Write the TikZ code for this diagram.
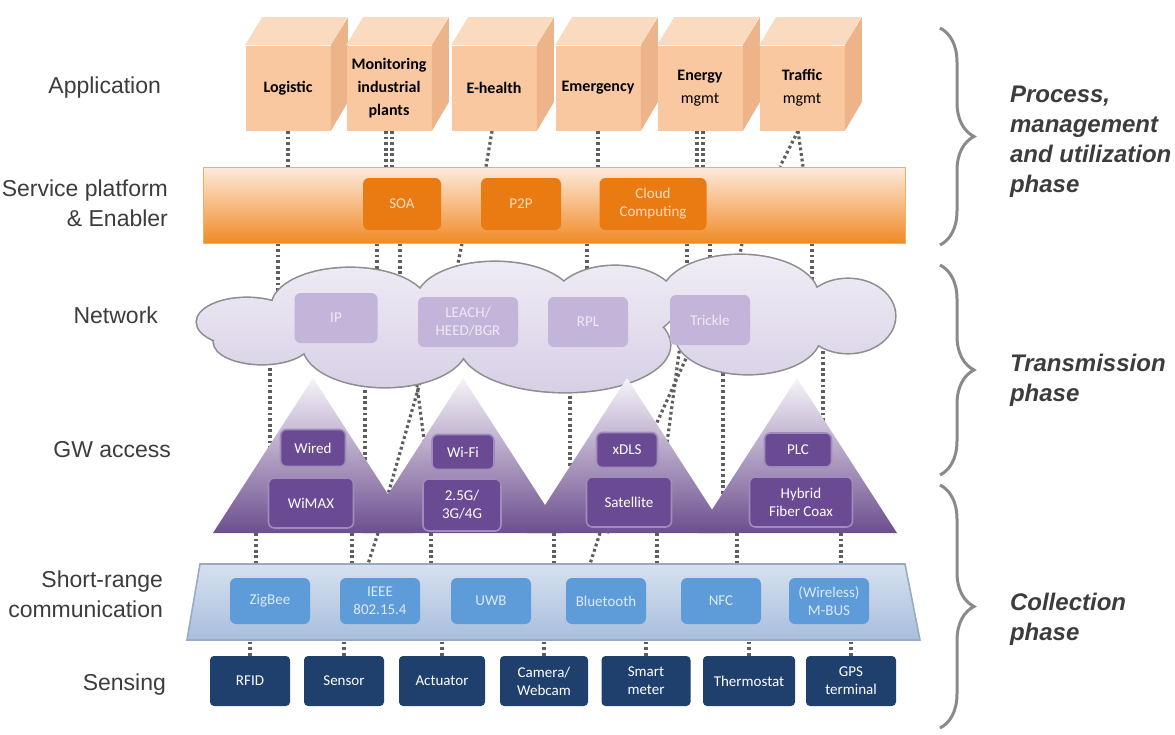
\documentclass[tikz,border=0pt]{standalone}
\usepackage{xcolor}
\usepackage{fontspec}
\setmainfont{Liberation Sans}
\newfontfamily\boxfont{Carlito}
\usepackage{tikz}
\usetikzlibrary{decorations.pathreplacing,backgrounds}

\definecolor{cubefront}{HTML}{F9C8A0}
\definecolor{cubetop}{HTML}{FBDBC0}
\definecolor{cubeside}{HTML}{ECB488}
\definecolor{svctop}{HTML}{FDEBDB}
\definecolor{svcmid}{HTML}{F9CFA8}
\definecolor{svcbot}{HTML}{F08A26}
\definecolor{svcbox}{HTML}{E97B12}
\definecolor{svctext}{HTML}{FBDCC0}
\definecolor{nettop}{HTML}{F1EEF6}
\definecolor{netlow}{HTML}{D7CEE5}
\definecolor{netbox}{HTML}{C3B5D9}
\definecolor{nettext}{HTML}{EEEAF6}
\definecolor{cloudline}{HTML}{8E8E8E}
\definecolor{gwtop}{HTML}{F6F3F9}
\definecolor{gwlow}{HTML}{6C4F8E}
\definecolor{gwbox}{HTML}{6A4A92}
\definecolor{gwedge}{HTML}{A08CBC}
\definecolor{srtop}{HTML}{D6E1EF}
\definecolor{srlow}{HTML}{A8BEDD}
\definecolor{srline}{HTML}{9AAAC2}
\definecolor{srbox}{HTML}{5E9CD9}
\definecolor{srtext}{HTML}{DCEAF8}
\definecolor{sensbox}{HTML}{1F3F6C}
\definecolor{labelgray}{HTML}{3C3C3C}
\definecolor{bracegray}{HTML}{8A8A8A}
\definecolor{dotgray}{HTML}{5E5E5E}

\tikzset{
  tagbox/.style={rounded corners=3pt, inner sep=0pt, align=center,
    font=\boxfont\fontsize{7.5}{9}\selectfont},
  appcube/.style={fill=cubefront, inner sep=0pt, align=center,
    minimum width=42.5pt, minimum height=42.5pt,
    font=\boxfont\bfseries\fontsize{8}{11.5}\selectfont},
  svctag/.style={tagbox, fill=svcbox, text=svctext, minimum height=26pt},
  nettag/.style={tagbox, fill=netbox, text=nettext, minimum height=25pt},
  gwtag/.style={tagbox, fill=gwbox, draw=gwedge, line width=.8pt, text=white},
  srtag/.style={tagbox, fill=srbox, text=srtext, minimum width=40pt, minimum height=23pt},
  senstag/.style={tagbox, rounded corners=2pt, fill=sensbox, text=white, minimum height=25pt},
  lefttag/.style={anchor=east, align=right, text=labelgray,
    font=\fontsize{11.5}{15}\selectfont},
  phasetag/.style={anchor=west, align=left, text=labelgray,
    font=\bfseries\itshape\fontsize{12}{15}\selectfont},
  phasebrace/.style={draw=bracegray, line width=1.5pt, decorate,
    decoration={brace, amplitude=17pt}},
  link/.style={draw=dotgray, line width=1.6pt, dash pattern=on 1.4pt off 1.4pt},
}

\newcommand{\cloudlobes}{%
  (247,322) ellipse (50 and 24) (262,342) ellipse (48 and 22)
  (350,306) ellipse (78 and 38) (495,300) ellipse (78 and 38)
  (615,303) ellipse (62 and 37) (740,296) ellipse (78 and 41)
  (848,316) ellipse (47 and 37) (748,336) ellipse (72 and 38)
  (565,345) ellipse (105 and 47) (385,345) ellipse (82 and 42)}

\begin{document}
\begin{tikzpicture}[x=0.5pt, y=-0.5pt]
  \useasboundingbox (0,0) rectangle (1175,735);

  % layer names
  \node[lefttag] (lapp) at (168,88) {Application};
  \node[lefttag] (lsvc) at (175,203) {Service platform\\\& Enabler};
  \node[lefttag] (lnet) at (165,315) {Network};
  \node[lefttag] (lgw) at (178,450) {GW access};
  \node[lefttag] (lsr) at (170,594) {Short-range\\communication};
  \node[lefttag] (lsen) at (173,685) {Sensing};

  % application cubes
  \foreach \nm/\cx/\txt in {logi/288/{Logistic}, moni/389/{Monitoring\\industrial\\plants},
      ehea/494/{E-health}, emer/598/{Emergency}, ener/700/{Energy\\{\mdseries mgmt}},
      traf/802/{Traffic\\{\mdseries mgmt}}} {
    \node[appcube] (\nm) at (\cx,88) {\txt};
    \fill[cubetop] (\nm.north west) -- ++(17,-28) -- ++(85,0) -- (\nm.north east) -- cycle;
    \fill[cubeside] (\nm.north east) -- ++(17,-28) -- ++(0,85) -- (\nm.south east) -- cycle;
  }

  % service platform
  \node[top color=svctop, middle color=svcmid, bottom color=svcbot, draw=svcbot!70,
    minimum width=351pt, minimum height=38pt] (svc) at (554,205) {};
  \node[svctag, minimum width=39pt] (soa) at (402,204) {SOA};
  \node[svctag, minimum width=40pt] (p2p) at (521,204) {P2P};
  \node[svctag, minimum width=53.5pt] (cloudc) at (653,204) {Cloud\\Computing};

  % network cloud
  \coordinate (net) at (545,323);
  \draw[cloudline, line width=1.6pt] \cloudlobes;
  \begin{scope}
    \clip \cloudlobes;
    \shade[top color=nettop, bottom color=netlow] (190,250) rectangle (900,396);
  \end{scope}
  \node[nettag, minimum width=41.5pt] (ip) at (336,318) {IP};
  \node[nettag, minimum width=50pt] (leach) at (468,322) {LEACH/\\HEED/BGR};
  \node[nettag, minimum width=40pt] (rpl) at (588,322) {RPL};
  \node[nettag, minimum width=40pt] (trickle) at (710,320) {Trickle};

  % gateway access
  \coordinate (gwbase) at (555,533);
  \foreach \p in {313,463,627,797}
    \shade[top color=gwtop, bottom color=gwlow] (\p,378) -- ++(100,155) -- ++(-200,0) -- cycle;
  \node[gwtag, minimum width=32.5pt, minimum height=18.5pt] (wired) at (313,448) {Wired};
  \node[gwtag, minimum width=42.5pt, minimum height=25pt] (wimax) at (311,503) {WiMAX};
  \node[gwtag, minimum width=31pt, minimum height=17.5pt] (wifi) at (463,452) {Wi-Fi};
  \node[gwtag, minimum width=39pt, minimum height=26pt] (cell) at (462,505) {2.5G/\\3G/4G};
  \node[gwtag, minimum width=30.5pt, minimum height=17.5pt] (xdls) at (627,450) {xDLS};
  \node[gwtag, minimum width=42.5pt, minimum height=25pt] (sat) at (629,502) {Satellite};
  \node[gwtag, minimum width=33.5pt, minimum height=17pt] (plc) at (798,450) {PLC};
  \node[gwtag, minimum width=51.5pt, minimum height=25pt] (hfc) at (801,502) {Hybrid\\Fiber Coax};

  % short-range communication
  \coordinate (srn) at (553,564);
  \coordinate (srs) at (553,640);
  \shadedraw[top color=srtop, bottom color=srlow, draw=srline, line width=.8pt]
    (200,564) -- (905,564) -- (920,640) -- (187,640) -- cycle;
  \node[srtag] (zigbee) at (270,601) {ZigBee};
  \node[srtag] (ieee) at (380,601) {IEEE\\802.15.4};
  \node[srtag] (uwb) at (491,601) {UWB};
  \node[srtag] (bt) at (606,601) {Bluetooth};
  \node[srtag] (nfc) at (721,601) {NFC};
  \node[srtag] (mbus) at (829,601) {(Wireless)\\M-BUS};

  % sensing
  \node[senstag, minimum width=40pt] (rfid) at (250,681) {RFID};
  \node[senstag, minimum width=40pt] (sens) at (344,681) {Sensor};
  \node[senstag, minimum width=43pt] (actu) at (442,681) {Actuator};
  \node[senstag, minimum width=44pt] (came) at (544,681) {Camera/\\Webcam};
  \node[senstag, minimum width=44.5pt] (smar) at (646,681) {Smart\\meter};
  \node[senstag, minimum width=46pt] (ther) at (749,681) {Thermostat};
  \node[senstag, minimum width=45pt] (gps) at (851,681) {GPS\\terminal};

  % phases
  \draw[phasebrace] (940,28) -- (940,245);
  \draw[phasebrace] (940,265) -- (940,475);
  \draw[phasebrace] (940,485) -- (940,728);
  \node[phasetag] (pproc) at (1003,142) {Process,\\management\\and utilization\\phase};
  \node[phasetag] (ptrans) at (1003,380) {Transmission\\phase};
  \node[phasetag] (pcoll) at (1003,619) {Collection\\phase};

  \begin{pgfonlayer}{background}
    \draw[link] (logi.south) -- (logi.south |- svc.north);
    \draw[link] ([xshift=-1.5pt]moni.south) -- ([xshift=-1.5pt]moni.south |- svc.north);
    \draw[link] ([xshift=1.5pt]moni.south) -- ([xshift=1.5pt]moni.south |- svc.north);
    \draw[link] ([xshift=-1pt]ehea.south) -- ([xshift=-4pt]ehea.south |- svc.north);
    \draw[link] (emer.south) -- (emer.south |- svc.north);
    \draw[link] ([xshift=-1.5pt]ener.south) -- ([xshift=-1.5pt]ener.south |- svc.north);
    \draw[link] ([xshift=1.5pt]ener.south) -- ([xshift=1.5pt]ener.south |- svc.north);
    \draw[link] ([xshift=-2pt]traf.south) -- ([xshift=-11pt]traf.south |- svc.north);
    \draw[link] ([xshift=-2pt]traf.south) -- ([xshift=0.5pt]traf.south |- svc.north);
    \foreach \x in {278,377,400,587,687,710,812}
      \draw[link] (\x,0 |- svc.south) -- (\x,0 |- net);
    \draw[link] (462,0 |- svc.south) -- (446,0 |- net);
    \draw[link] (742,0 |- svc.south) -- (727,0 |- net);
    \foreach \x in {270,365,570,723,823}
      \draw[link] (\x,0 |- net) -- (\x,0 |- gwbase);
    \draw[link] (437,0 |- net) -- (377,0 |- gwbase);
    \draw[link] (409,0 |- net) -- (436,0 |- gwbase);
    \draw[link] (702,0 |- net) -- (607,0 |- gwbase);
    \draw[link] (683,0 |- net) -- (655,0 |- gwbase);
    \foreach \x in {256,352,431,554,657,737,841}
      \draw[link] (\x,0 |- gwbase) -- (\x,0 |- srn);
    \draw[link] (378,0 |- gwbase) -- (368,0 |- srn);
    \draw[link] (600,0 |- gwbase) -- (590,0 |- srn);
    \foreach \s in {rfid,sens,actu,came,smar,ther,gps}
      \draw[link] (\s.north) -- (\s.north |- srs);
  \end{pgfonlayer}
\end{tikzpicture}
\end{document}
